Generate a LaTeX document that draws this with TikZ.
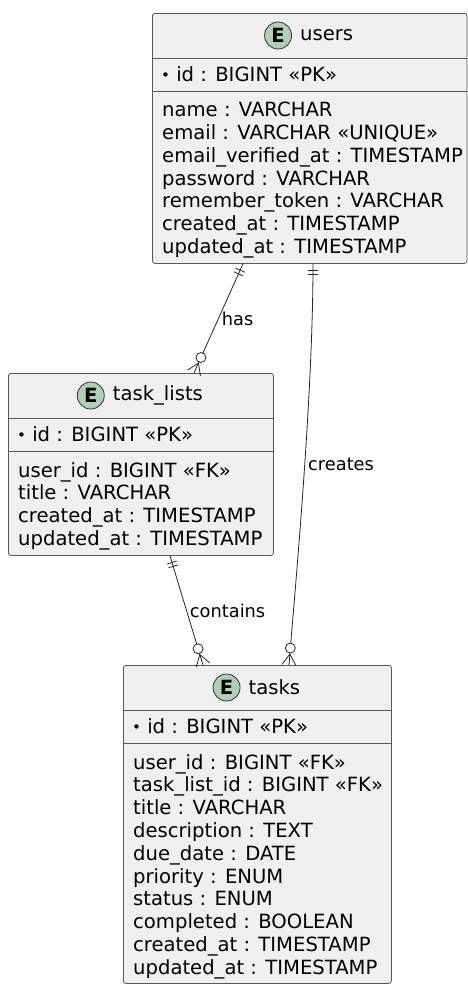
\documentclass[tikz,border=0pt]{standalone}
\usepackage{fontspec}
\setmainfont{DejaVu Sans}
\usetikzlibrary{positioning,calc}

% two bars at the "one" end of a relation
\newcommand{\onemark}[2]{%
\draw[rel] ($(#1)!7pt!(#2)!5pt!90:(#2)$) -- ($(#1)!7pt!(#2)!5pt!-90:(#2)$);
\draw[rel] ($(#1)!11pt!(#2)!5pt!90:(#2)$) -- ($(#1)!11pt!(#2)!5pt!-90:(#2)$);}
% circle and crow's foot at the "many" end
\newcommand{\manymark}[2]{%
\draw[rel] ($(#1)!11pt!(#2)$) -- ($(#1)!7pt!90:(#2)$);
\draw[rel] ($(#1)!11pt!(#2)$) -- ($(#1)!7pt!-90:(#2)$);
\draw[rel,fill=white] ($(#1)!17pt!(#2)$) circle (5pt);}
% small key bullet
\newcommand{\keydot}{{\fontsize{15}{15}\selectfont\raisebox{1pt}{•}}}

\begin{document}
\begin{tikzpicture}[x=1pt,y=1pt,
  ent/.style={draw=black!65,line width=0.8pt,fill=black!6,rounded corners=2.5pt,anchor=north west,inner sep=0pt},
  sepline/.style={draw=black!65,line width=0.8pt},
  title/.style={font=\fontsize{19.6}{22.8}\selectfont,inner sep=1pt},
  spot/.style={circle,draw=black!80,line width=0.8pt,fill={rgb,255:red,173;green,209;blue,178},minimum size=27pt,inner sep=0pt,font=\bfseries\fontsize{19.6}{22.8}\selectfont},
  pk/.style={anchor=west,font=\fontsize{19.6}{22.8}\selectfont,inner sep=2pt},
  fields/.style={anchor=north west,align=left,font=\fontsize{19.6}{22.8}\selectfont,inner sep=2pt},
  rel/.style={draw=black!85,line width=0.8pt},
  lbl/.style={anchor=west,font=\fontsize{17.8}{20}\selectfont,inner sep=3pt}]
\useasboundingbox (0,0) rectangle (467,-985);

%users
\node[ent,minimum width=314.5pt,minimum height=250pt] (users) at (152,-13) {};
\draw[sepline] ([yshift=-45pt]users.north west) -- ([yshift=-45pt]users.north east);
\draw[sepline] ([yshift=-78pt]users.north west) -- ([yshift=-78pt]users.north east);
\node[title] (usersT) at ([xshift=17pt,yshift=-22.5pt]users.north) {users};
\node[spot,left=7pt of usersT] (usersE) {E};
\node[pk] (usersPK) at ([xshift=7pt,yshift=-61.5pt]users.north west) {\keydot\ id : BIGINT «PK»};
\node[fields] (usersF) at ([xshift=8pt,yshift=-87pt]users.north west) {name : VARCHAR\\email : VARCHAR «UNIQUE»\\email\_verified\_at : TIMESTAMP\\password : VARCHAR\\remember\_token : VARCHAR\\created\_at : TIMESTAMP\\updated\_at : TIMESTAMP};

%task_lists
\node[ent,minimum width=265pt,minimum height=182pt] (lists) at (8,-373) {};
\draw[sepline] ([yshift=-45pt]lists.north west) -- ([yshift=-45pt]lists.north east);
\draw[sepline] ([yshift=-78pt]lists.north west) -- ([yshift=-78pt]lists.north east);
\node[title] (listsT) at ([xshift=17pt,yshift=-22.5pt]lists.north) {task\_lists};
\node[spot,left=7pt of listsT] (listsE) {E};
\node[pk] (listsPK) at ([xshift=7pt,yshift=-61.5pt]lists.north west) {\keydot\ id : BIGINT «PK»};
\node[fields] (listsF) at ([xshift=8pt,yshift=-87pt]lists.north west) {user\_id : BIGINT «FK»\\title : VARCHAR\\created\_at : TIMESTAMP\\updated\_at : TIMESTAMP};

%tasks
\node[ent,minimum width=268pt,minimum height=318pt] (tasks) at (123,-665) {};
\draw[sepline] ([yshift=-45pt]tasks.north west) -- ([yshift=-45pt]tasks.north east);
\draw[sepline] ([yshift=-78pt]tasks.north west) -- ([yshift=-78pt]tasks.north east);
\node[title] (tasksT) at ([xshift=17pt,yshift=-22.5pt]tasks.north) {tasks};
\node[spot,left=7pt of tasksT] (tasksE) {E};
\node[pk] (tasksPK) at ([xshift=7pt,yshift=-61.5pt]tasks.north west) {\keydot\ id : BIGINT «PK»};
\node[fields] (tasksF) at ([xshift=8pt,yshift=-87pt]tasks.north west) {user\_id : BIGINT «FK»\\task\_list\_id : BIGINT «FK»\\title : VARCHAR\\description : TEXT\\due\_date : DATE\\priority : ENUM\\status : ENUM\\completed : BOOLEAN\\created\_at : TIMESTAMP\\updated\_at : TIMESTAMP};

%relations
\coordinate (hasA) at ([xshift=91pt]users.south west);
\coordinate (hasB) at ([xshift=186pt]lists.north west);
\draw[rel] (hasA) -- node[lbl,pos=0.5] (hasL) {has} (hasB);
\onemark{hasA}{hasB}
\manymark{hasB}{hasA}

\coordinate (creA) at ([xshift=161pt]users.south west);
\coordinate (creB) at ([xshift=166pt]tasks.north west);
\draw[rel] (creA) .. controls +(0,-137) and +(5,65) .. node[lbl,pos=0.44] (creL) {creates} (creB);
\coordinate (creC) at ($(creB)+(5,65)$);
\coordinate (creD) at ($(creA)+(0,-137)$);
\onemark{creA}{creD}
\manymark{creB}{creC}

\coordinate (conA) at ([xshift=162pt]lists.south west);
\coordinate (conB) at ([xshift=80pt]tasks.north west);
\draw[rel] (conA) -- node[lbl,pos=0.5] (conL) {contains} (conB);
\onemark{conA}{conB}
\manymark{conB}{conA}
\end{tikzpicture}
\end{document}
